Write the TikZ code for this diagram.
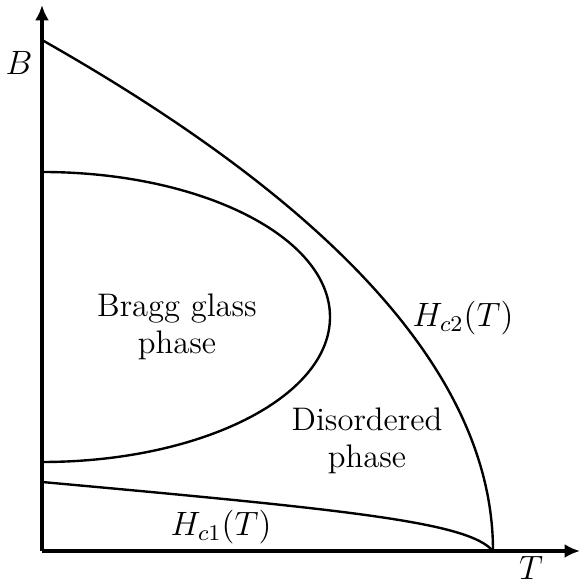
\documentclass[tikz,border=0pt]{standalone}
\usepackage{amsmath}
\usepackage{tikz}
\usetikzlibrary{arrows.meta, positioning, calc}

\begin{document}
\begin{tikzpicture}[
    x=0.0125cm, y=0.0125cm,
    axis/.style={-{Latex[length=5.5pt, width=5pt]}, line width=1.1pt},
    curve/.style={line width=0.85pt},
    lbl/.style={font=\fontsize{11.6}{13}\selectfont, align=center, inner sep=0pt}
]
\useasboundingbox (0,0) rectangle (580,584);

% Axes
\coordinate (origin) at (42,33);
\coordinate (ytip) at (42,579);
\coordinate (xtip) at (580,33);
\draw[axis] (origin) -- (ytip);
\draw[axis] (origin) -- (xtip);
\node[lbl] (blabel) at (19,521) {$B$};
\node[lbl] (tlabel) at (531,16) {$T$};

% Upper critical field
\coordinate (hctop) at (42,544);
\coordinate (tc) at (493,33);
\draw[curve] (hctop) .. controls (342.7,373.7) and (493,203.3) .. (tc);
\node[lbl] (hctwo) at (463,266) {$H_{c2}(T)$};

% Lower critical field
\coordinate (hcone0) at (42,102);
\draw[curve] (hcone0) .. controls (350,74) and (468,62) .. (tc);
\node[lbl] (hcone) at (221,57) {$H_{c1}(T)$};

% Bragg glass region
\coordinate (bgtop) at (42,412);
\draw[curve] (bgtop) arc[start angle=90, end angle=-90, x radius=288, y radius=145];
\node[lbl] (bragg) at (177,257) {Bragg glass\\phase};

% Disordered region
\node[lbl] (disord) at (367,143) {Disordered\\phase};

\end{tikzpicture}
\end{document}
